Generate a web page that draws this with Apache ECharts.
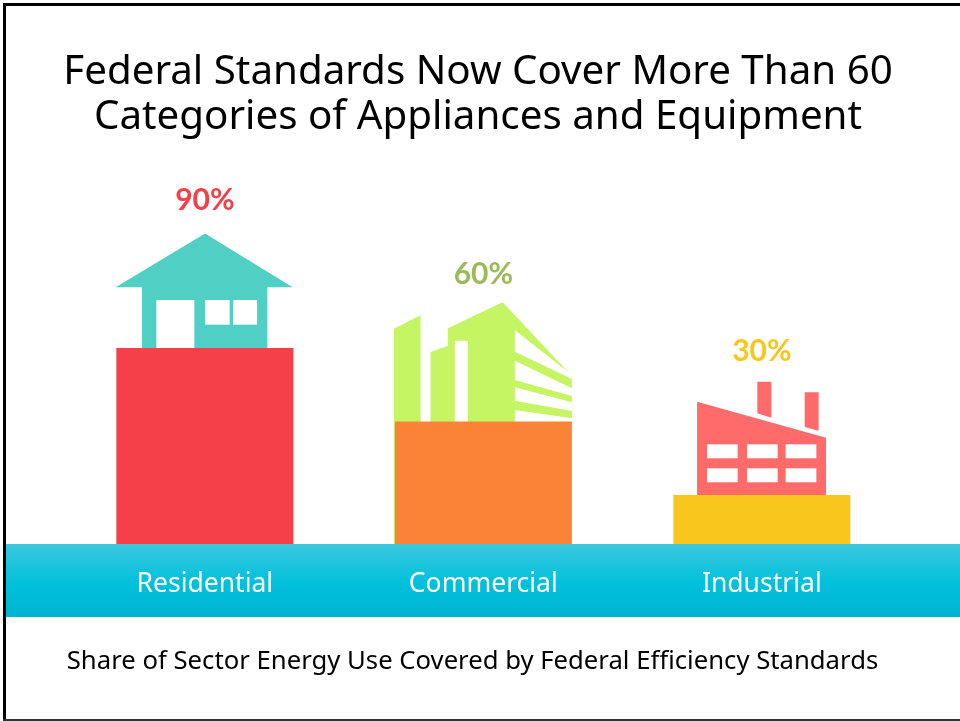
<!DOCTYPE html>
<html>
<head>
<meta charset="utf-8">
<style>html,body{margin:0;padding:0;background:#fff}#chart{width:960px;height:721px}</style>
<script src="https://cdn.jsdelivr.net/npm/echarts@6/dist/echarts.min.js"></script>
</head>
<body>
<div id="chart"></div>
<script>
const categories = ['Residential', 'Commercial', 'Industrial'];
const coveredShare = [90, 60, 30];
const barColors = ['#F5404A', '#FB8338', '#F8C61C'];
const labelColors = ['#F5404A', '#9BBB59', '#F8C61C'];
const labelGaps = [133, 132, 129];

const titleText = 'Federal Standards Now Cover More Than 60\nCategories of Appliances and Equipment';
const captionText = 'Share of Sector Energy Use Covered by Federal Efficiency Standards';
const uiFont = '"Noto Sans", sans-serif';

// Pictograms behind each bar, in pixels from the bar's centre on the baseline.
const houseIcon = [
  { fill: '#50CFC4', pts: [[0.2, -310.5], [87.8, -256.7], [62.5, -256.7], [62.5, 0], [-62.8, 0], [-62.8, -256.7], [-89.2, -256.7]] },
  { fill: '#fff', pts: [[-48.5, -244], [-10.5, -244], [-10.5, 0], [-48.5, 0]] },
  { fill: '#fff', pts: [[0.2, -244], [24.8, -244], [24.8, -219.3], [0.2, -219.3]] },
  { fill: '#fff', pts: [[28.2, -244], [52.2, -244], [52.2, -219.3], [28.2, -219.3]] }
];
const officeIcon = [
  { fill: '#C5F562', pts: [[-89.5, -215.3], [-62.8, -228.7], [-62.8, 0], [-89.5, 0]] },
  { fill: '#C5F562', pts: [[-52.8, -192], [-35.5, -198], [-35.5, -215.7], [19.2, -241.7], [88.5, -168], [88.5, 0], [-52.8, 0]] },
  { fill: '#fff', pts: [[-28.5, -203.3], [-15.5, -203.3], [-15.5, 0], [-28.5, 0]] },
  { fill: '#fff', pts: [[31.5, -214], [88.5, -169], [88.5, -165], [31.5, -192.3]] },
  { fill: '#fff', pts: [[31.5, -183.3], [88.5, -155.7], [88.5, -148], [31.5, -164]] },
  { fill: '#fff', pts: [[31.5, -156.7], [88.5, -141.7], [88.5, -133], [31.5, -143.3]] },
  { fill: '#fff', pts: [[31.5, -134], [88.5, -125.7], [88.5, -116.7], [31.5, -118]] }
];
const factoryIcon = [
  { fill: '#FF6B6B', pts: [[-4.5, -162.3], [9.5, -162.3], [9.5, -126.3], [-4.5, -130.7]] },
  { fill: '#FF6B6B', pts: [[42.8, -151.7], [56.8, -151.7], [56.8, -113.3], [42.8, -117]] },
  { fill: '#FF6B6B', pts: [[-64.8, -142.3], [64.2, -106.3], [64.2, 0], [-64.8, 0]] },
  { fill: '#fff', pts: [[-54.8, -99.7], [-24.2, -99.7], [-24.2, -85.7], [-54.8, -85.7]] },
  { fill: '#fff', pts: [[-14.8, -99.7], [15.8, -99.7], [15.8, -85.7], [-14.8, -85.7]] },
  { fill: '#fff', pts: [[23.8, -99.7], [54.5, -99.7], [54.5, -85.7], [23.8, -85.7]] },
  { fill: '#fff', pts: [[-54.8, -75.7], [-24.2, -75.7], [-24.2, -61.7], [-54.8, -61.7]] },
  { fill: '#fff', pts: [[-14.8, -75.7], [15.8, -75.7], [15.8, -61.7], [-14.8, -61.7]] },
  { fill: '#fff', pts: [[23.8, -75.7], [54.5, -75.7], [54.5, -61.7], [23.8, -61.7]] }
];
const icons = [houseIcon, officeIcon, factoryIcon];

const axisFloor = 10;

const chart = echarts.init(document.getElementById('chart'), null, { renderer: 'canvas' });
chart.setOption({
  animation: false,
  backgroundColor: '#fff',
  title: [{
    text: titleText,
    left: 478, top: 50, textAlign: 'center', padding: 0,
    textStyle: { fontFamily: uiFont, fontSize: 40.3, fontWeight: 'normal', color: '#000', lineHeight: 45, align: 'center' }
  }, {
    text: captionText,
    left: 472.5, top: 649, textAlign: 'center', padding: 0,
    textStyle: { fontFamily: uiFont, fontSize: 25.7, fontWeight: 'normal', color: '#000' }
  }],
  graphic: [
    { type: 'rect', z: 0, shape: { x: 5, y: 544, width: 955, height: 73 },
      style: { fill: new echarts.graphic.LinearGradient(0, 0, 0, 1, [
        { offset: 0, color: '#3CC8DE' }, { offset: 0.55, color: '#00C0DC' }, { offset: 1, color: '#00B4D0' }
      ]) } },
    { type: 'rect', z: 0, shape: { x: 3, y: 3, width: 957, height: 3 }, style: { fill: '#000' } },
    { type: 'rect', z: 0, shape: { x: 3, y: 3, width: 3, height: 718 }, style: { fill: '#000' } },
    { type: 'rect', z: 0, shape: { x: 3, y: 719, width: 957, height: 2 }, style: { fill: '#333' } }
  ],
  grid: { left: 65.6, width: 835.5, top: 323.5, height: 220.5 },
  xAxis: {
    type: 'category', data: categories, z: 5,
    axisLine: { show: false }, axisTick: { show: false },
    axisLabel: { color: '#fff', fontFamily: uiFont, fontSize: 26.5, margin: 27 }
  },
  yAxis: { type: 'value', min: axisFloor, max: 100, interval: 10, show: false },
  series: [{
    type: 'custom', z: 1, silent: true, clip: false,
    data: categories.map((c, i) => [i, axisFloor]),
    renderItem: (params, api) => {
      const base = api.coord([api.value(0), api.value(1)]);
      return {
        type: 'group',
        children: icons[params.dataIndex].map(part => ({
          type: 'polygon',
          shape: { points: part.pts.map(p => [base[0] + p[0], base[1] + p[1]]) },
          style: { fill: part.fill }
        }))
      };
    }
  }, {
    type: 'bar', z: 2, barWidth: 177,
    data: coveredShare.map((v, i) => ({
      value: v,
      itemStyle: { color: barColors[i] },
      label: { color: labelColors[i], distance: labelGaps[i] }
    })),
    label: {
      show: true, position: 'top', formatter: '{c}%',
      fontFamily: 'Lato', fontSize: 30, fontWeight: 'bold'
    }
  }]
});
</script>
</body>
</html>
